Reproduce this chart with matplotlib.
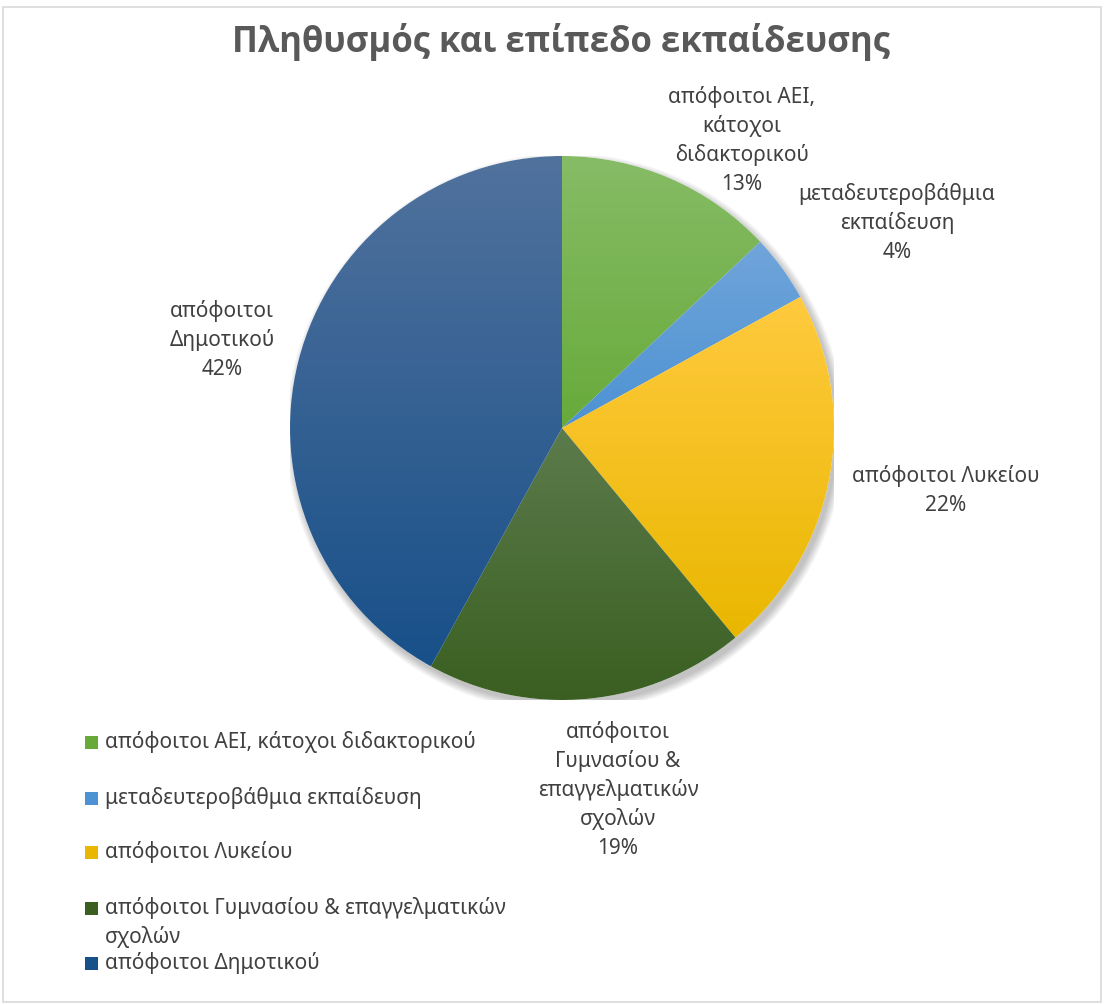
import numpy as np
import matplotlib
matplotlib.use('Agg')
import matplotlib.pyplot as plt
from matplotlib.colors import LinearSegmentedColormap
from matplotlib.patches import Rectangle

plt.rcParams['font.family'] = ['Noto Sans', 'DejaVu Sans']

TITLE = 'Πληθυσμός και επίπεδο εκπαίδευσης'
categories = ['απόφοιτοι ΑΕΙ, κάτοχοι διδακτορικού',
              'μεταδευτεροβάθμια εκπαίδευση',
              'απόφοιτοι Λυκείου',
              'απόφοιτοι Γυμνασίου & επαγγελματικών σχολών',
              'απόφοιτοι Δημοτικού']
values = [13, 4, 22, 19, 42]
label_text = ['απόφοιτοι ΑΕΙ,\nκάτοχοι\nδιδακτορικού',
              'μεταδευτεροβάθμια\nεκπαίδευση',
              'απόφοιτοι Λυκείου',
              'απόφοιτοι\nΓυμνασίου &\nεπαγγελματικών\nσχολών',
              'απόφοιτοι\nΔημοτικού']
legend_text = ['απόφοιτοι ΑΕΙ, κάτοχοι διδακτορικού',
               'μεταδευτεροβάθμια εκπαίδευση',
               'απόφοιτοι Λυκείου',
               'απόφοιτοι Γυμνασίου & επαγγελματικών\nσχολών',
               'απόφοιτοι Δημοτικού']

# (top, bottom) gradient colours per slice
GRAD = [('#86bc66', '#68aa3a'),
        ('#70a5da', '#4d92d3'),
        ('#ffca3e', '#e9b700'),
        ('#5c7b4c', '#3a5f21'),
        ('#51729d', '#185089')]
TEXT_C = '#404040'
FS = 15
LINE_PX = 29

W, H = 1104, 1005
fig = plt.figure(figsize=(W / 100, H / 100), dpi=100)
fig.add_artist(Rectangle((3 / W, 3 / H), (W - 6) / W, (H - 10) / H,
                         transform=fig.transFigure, fill=False,
                         edgecolor='#d9d9d9', linewidth=1.2))

fig.text(561 / W, 1 - 42 / H, TITLE, ha='center', va='center',
         fontsize=25, fontweight='bold', color='#595959',
         family=['Open Sans', 'DejaVu Sans'])

# pie axes: centre (562, 428), radius 272 px
cx, cy, r = 562, 428, 272
ax = fig.add_axes([(cx - r) / W, (H - cy - r) / H, 2 * r / W, 2 * r / H])
ax.set_xlim(-1, 1)
ax.set_ylim(-1, 1)
ax.axis('off')

# soft shadow
for k in range(8):
    sh = plt.Circle((0.012, -0.018), 1.0 + 0.004 * k, color='#000000',
                    alpha=0.03, lw=0, zorder=0)
    ax.add_patch(sh)

wedges, _ = ax.pie(values, startangle=90, counterclock=False, radius=1,
                   colors=['none'] * len(values),
                   wedgeprops=dict(linewidth=0))

for w, (top, bot) in zip(wedges, GRAD):
    w.set_facecolor('white')
    w.set_zorder(1)
    ext = w.get_path().get_extents()
    cmap = LinearSegmentedColormap.from_list('g', [bot, top])
    grad = np.linspace(0, 1, 256).reshape(-1, 1)
    im = ax.imshow(grad, cmap=cmap, origin='lower', aspect='auto',
                   extent=(ext.x0, ext.x1, ext.y0, ext.y1), zorder=2)
    im.set_clip_path(w)
ax.set_xlim(-1, 1)
ax.set_ylim(-1, 1)

# data labels: centre x and first-line centre y, in figure pixels
label_pos = [(742, 97), (897, 194), (946, 476), (618, 732), (222, 311)]
for txt, v, (px, py) in zip(label_text, values, label_pos):
    lines = txt.split('\n') + [f'{v}%']
    for i, line in enumerate(lines):
        fig.text(px / W, 1 - (py + i * LINE_PX) / H, line, ha='center',
                 va='center', fontsize=FS, color=TEXT_C)

# legend
leg_y = [742, 798, 852, 908, 963]
for (top, bot), txt, py in zip(GRAD, legend_text, leg_y):
    fig.add_artist(Rectangle((85 / W, 1 - (py + 7) / H), 13 / W, 13 / H,
                             transform=fig.transFigure, facecolor=bot,
                             edgecolor='none'))
    for i, line in enumerate(txt.split('\n')):
        fig.text(105 / W, 1 - (py + i * LINE_PX) / H, line, ha='left',
                 va='center', fontsize=FS, color=TEXT_C)

fig.savefig('out.png', dpi=100)
